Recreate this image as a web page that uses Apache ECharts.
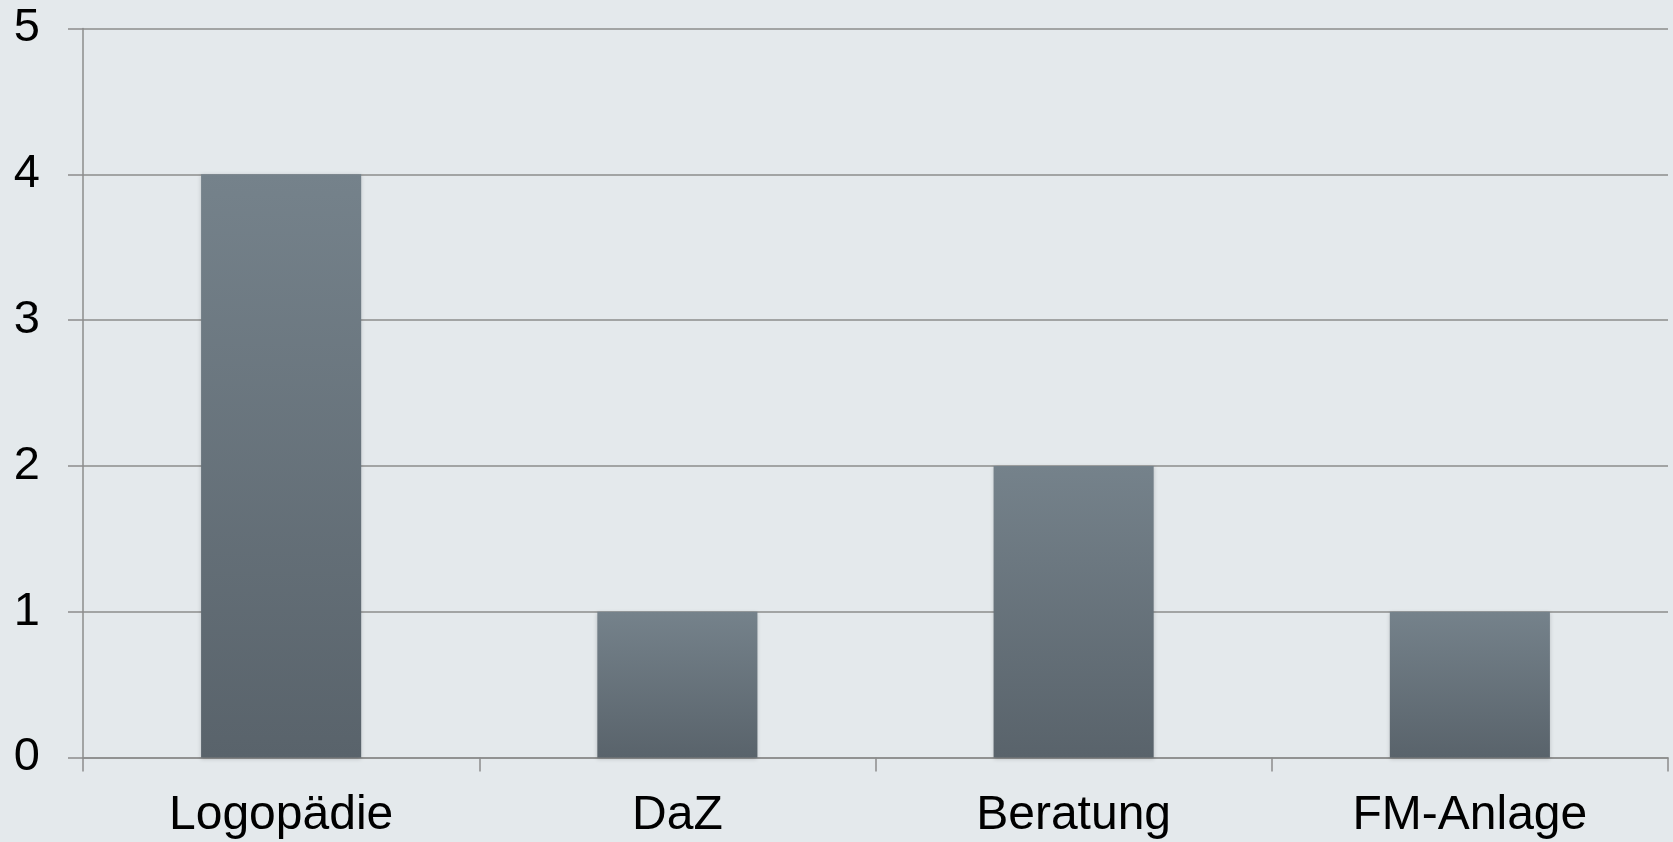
<!DOCTYPE html>
<html>
<head>
<meta charset="utf-8">
<script src="https://cdn.jsdelivr.net/npm/echarts@6/dist/echarts.min.js"></script>
<style>
html,body{margin:0;padding:0;background:#e4e9ec;}
#chart{width:1673px;height:842px;}
</style>
</head>
<body>
<div id="chart"></div>
<script>
var categories = ["Logopädie", "DaZ", "Beratung", "FM-Anlage"];
var values = [4, 1, 2, 1];
var yTicks = [0, 1, 2, 3, 4, 5];

var chart = echarts.init(document.getElementById('chart'), null, {renderer: 'canvas'});
var axisColor = '#8c8c8c';
chart.setOption({
  backgroundColor: '#e4e9ec',
  animation: false,
  grid: {left: 83, right: 5, top: 28.5, bottom: 84.5, containLabel: false},
  xAxis: {
    type: 'category',
    data: categories,
    boundaryGap: true,
    axisLine: {show: true, lineStyle: {color: axisColor, width: 1.5}},
    axisTick: {show: true, length: 14, alignWithLabel: false, lineStyle: {color: axisColor, width: 1.5}},
    axisLabel: {color: '#000', fontSize: 48, fontFamily: 'Liberation Sans, Arial, sans-serif', margin: 34},
    splitLine: {show: false}
  },
  yAxis: {
    type: 'value',
    min: yTicks[0],
    max: yTicks[yTicks.length - 1],
    interval: 1,
    axisLine: {show: true, lineStyle: {color: axisColor, width: 1.5}},
    axisTick: {show: true, length: 15, lineStyle: {color: axisColor, width: 1.5}},
    axisLabel: {color: '#000', fontSize: 47, fontFamily: 'Liberation Sans, Arial, sans-serif', margin: 43, align: 'right'},
    splitLine: {show: true, lineStyle: {color: axisColor, width: 1.5}}
  },
  series: [{
    type: 'bar',
    data: values,
    barWidth: '40.4%',
    itemStyle: {
      color: new echarts.graphic.LinearGradient(0, 0, 0, 1, [
        {offset: 0, color: '#75828b'},
        {offset: 1, color: '#59636b'}
      ]),
      shadowColor: 'rgba(0,0,0,0.18)',
      shadowBlur: 4,
      shadowOffsetY: 1
    }
  }]
});
</script>
</body>
</html>
